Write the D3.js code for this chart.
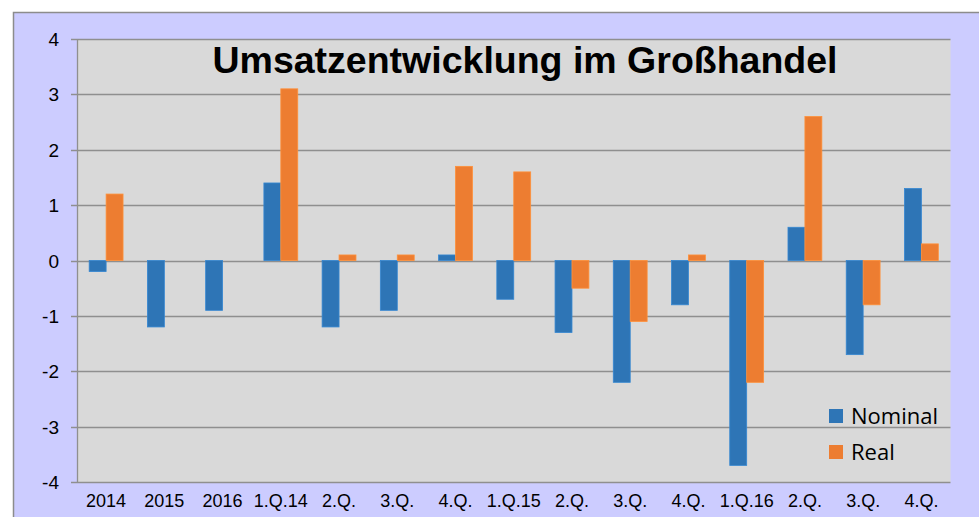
<!DOCTYPE html>
<html><head><meta charset="utf-8">
<script src="https://cdn.jsdelivr.net/npm/d3@7"></script>
<style>body{margin:0;background:#fff}svg{display:block}</style>
</head><body><svg id="c" width="979" height="517"></svg>
<script>
const categories = ["2014","2015","2016","1.Q.14","2.Q.","3.Q.","4.Q.","1.Q.15","2.Q.","3.Q.","4.Q.","1.Q.16","2.Q.","3.Q.","4.Q."];
const nominal = [-0.2,-1.2,-0.9,1.4,-1.2,-0.9,0.1,-0.7,-1.3,-2.2,-0.8,-3.7,0.6,-1.7,1.3];
const real = [1.2,null,null,3.1,0.1,0.1,1.7,1.6,-0.5,-1.1,0.1,-2.2,2.6,-0.8,0.3];
const yTicks = [4,3,2,1,0,-1,-2,-3,-4];
const seriesNames = ["Nominal","Real"];
const colors = ["#2e75b6","#ed7d31"];
const title = "Umsatzentwicklung im Großhandel";

const FONT = "'Liberation Sans', Arial, sans-serif";
const svg = d3.select("#c");
svg.append("rect").attr("x",13.5).attr("y",12.5).attr("width",980).attr("height",520)
  .attr("fill","#ccccff").attr("stroke","#8c8c8c").attr("stroke-width",1.5);

const L=77, R=950.5, T=39, B=482;
const idx = categories.map((d,i)=>i);
const x = d3.scaleBand().domain(idx).range([L,R]).paddingInner(0).paddingOuter(0);
const y = d3.scaleLinear().domain([-4,4]).range([B,T]);
const x1 = d3.scaleBand().domain([0,1]).range([0,x.bandwidth()]).paddingInner(0).paddingOuter(0.72);

svg.append("rect").attr("x",L).attr("y",T).attr("width",R-L).attr("height",B-T).attr("fill","#d9d9d9");

// grid
svg.append("g").selectAll("line").data(yTicks).join("line")
  .attr("x1",L-6).attr("x2",R).attr("y1",d=>Math.round(y(d))+0.5).attr("y2",d=>Math.round(y(d))+0.5)
  .attr("stroke","#8f8f8f").attr("stroke-width",1.3);
svg.append("line").attr("x1",L+0.5).attr("x2",L+0.5).attr("y1",T).attr("y2",B)
  .attr("stroke","#8f8f8f").attr("stroke-width",1.3);

// y labels
svg.append("g").selectAll("text").data(yTicks).join("text")
  .attr("x",59).attr("y",d=>y(d)+7).attr("text-anchor","end")
  .style("font-family",FONT).style("font-size","19px").attr("fill","#000")
  .text(d=>d);

// bars
const series = [nominal, real];
series.forEach((vals,s)=>{
  svg.append("g").selectAll("rect").data(vals.map((v,i)=>({v,i})).filter(d=>d.v!==null)).join("rect")
    .attr("x",d=>x(d.i)+x1(s))
    .attr("width",x1.bandwidth())
    .attr("y",d=>y(Math.max(0,d.v)))
    .attr("height",d=>Math.abs(y(d.v)-y(0)))
    .attr("fill",colors[s]).attr("stroke",d3.color(colors[s]).brighter(0.4)).attr("stroke-width",0.8);
});

// category labels
svg.append("g").selectAll("text").data(idx).join("text")
  .attr("x",i=>x(i)+x.bandwidth()/2).attr("y",507).attr("text-anchor","middle")
  .style("font-family",FONT).style("font-size","18px").attr("fill","#000")
  .text(i=>categories[i]);

// title
svg.append("text").attr("x",525).attr("y",73).attr("text-anchor","middle")
  .style("font-family",FONT).style("font-weight","bold").style("font-size","37.5px")
  .attr("fill","#000").text(title);

// legend
const lg = svg.append("g");
seriesNames.forEach((n,s)=>{
  lg.append("rect").attr("x",829).attr("y",409+s*36).attr("width",14).attr("height",14).attr("fill",colors[s]);
  lg.append("text").attr("x",851).attr("y",424+s*36).style("font-family","'Open Sans', sans-serif")
    .style("font-size","22px").attr("fill","#000").text(n);
});
</script></body></html>
